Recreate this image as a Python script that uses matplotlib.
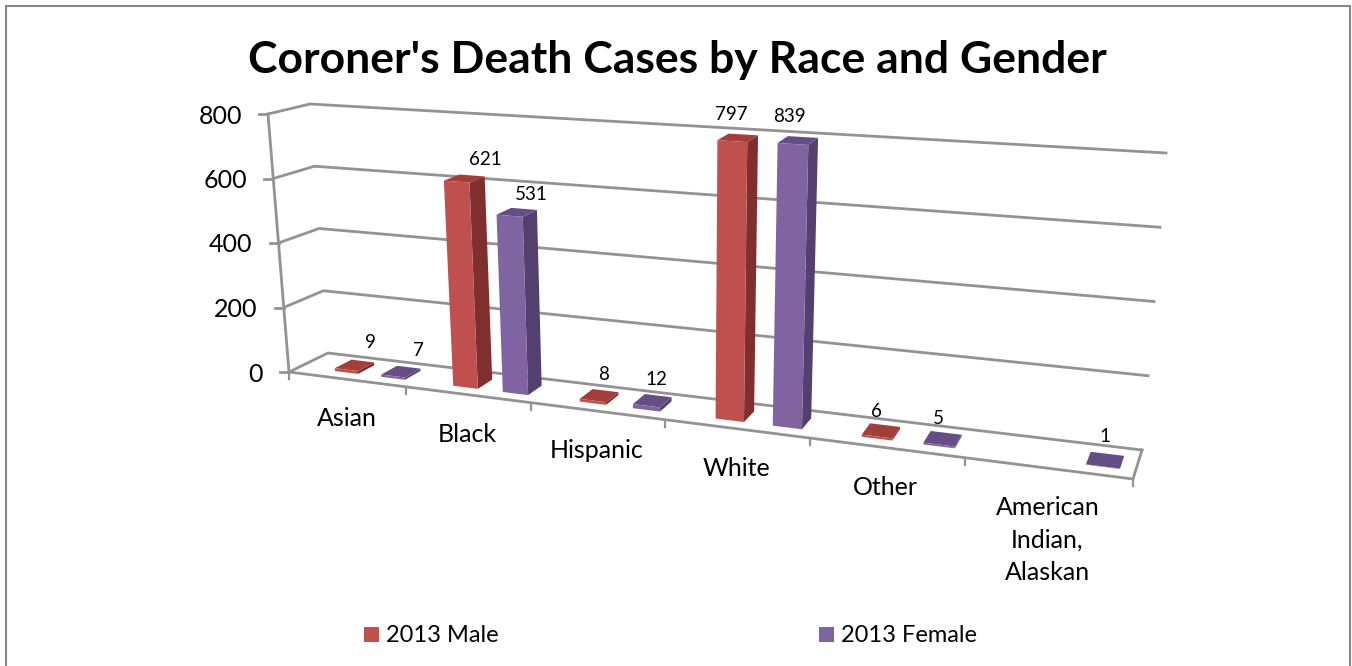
import numpy as np
import matplotlib
matplotlib.use("Agg")
import matplotlib.pyplot as plt
from matplotlib.patches import Polygon, Rectangle

plt.rcParams['font.family'] = ['Lato', 'DejaVu Sans']

# datos de la tabla
categories = ['Asian', 'Black', 'Hispanic', 'White', 'Other', 'American\nIndian,\nAlaskan']
male = [9, 621, 8, 797, 6, None]
female = [7, 531, 12, 839, 5, 1]
value_ticks = [0, 200, 400, 600, 800]

# ajuste fino de las etiquetas (px)
male_nudge = [(24, -27), (29, -22), (11, -26), (-1, -27), (-1, -25), (0, 0)]
female_nudge = [(25, -26), (22, -21), (10, -26), (-3, -27), (-1, -26), (2, -30)]

RED = ('#c0504d', '#7f2f2d', '#a33e3b')
PURPLE = ('#8064a2', '#54406f', '#664d85')
GRID = '#939393'

# esquinas de la caja en pixeles: (u, profundidad, altura)
front_bot = np.array([[289, 372], [1133, 479]], float)
back_bot = np.array([[328, 353], [1142, 450]], float)
front_top = np.array([[268, 114], [1157, 173]], float)
back_top = np.array([[310, 104], [1166, 153]], float)
PERSP = 1.243


def project(u, d, v):
    # u: categoria (0..6), d: profundidad (0..1), v: valor (0..800)
    a = u / len(categories)
    t = a / (a + PERSP * (1 - a))
    h = v / value_ticks[-1]
    fb = front_bot[0] + t * (front_bot[1] - front_bot[0])
    bb = back_bot[0] + t * (back_bot[1] - back_bot[0])
    ft = front_top[0] + t * (front_top[1] - front_top[0])
    bt = back_top[0] + t * (back_top[1] - back_top[0])
    bottom = fb + d * (bb - fb)
    top = ft + d * (bt - ft)
    return bottom + h * (top - bottom)


def draw_bar(ax, u0, u1, value, colors, nudge):
    d0, d1 = 0.28, 0.72
    # la barra se corta en el maximo del eje, la etiqueta no
    h = min(value, value_ticks[-1])
    p = project
    # cara lateral, superior y frontal
    ax.add_patch(Polygon([p(u1, d0, 0), p(u1, d1, 0), p(u1, d1, h), p(u1, d0, h)],
                         facecolor=colors[1], edgecolor='none', zorder=3))
    ax.add_patch(Polygon([p(u0, d0, h), p(u1, d0, h), p(u1, d1, h), p(u0, d1, h)],
                         facecolor=colors[2], edgecolor='none', zorder=3))
    ax.add_patch(Polygon([p(u0, d0, 0), p(u1, d0, 0), p(u1, d0, h), p(u0, d0, h)],
                         facecolor=colors[0], edgecolor='none', zorder=4))
    cx, cy = p((u0 + u1) / 2, d0, h)
    ax.text(cx + nudge[0], cy + nudge[1], str(value), ha='center', va='center',
            fontsize=13.5, color='black', zorder=5)


fig = plt.figure(figsize=(13.52, 6.66), dpi=100)
ax = fig.add_axes([0, 0, 1, 1])
ax.set_xlim(0, 1352)
ax.set_ylim(666, 0)
ax.axis('off')

# marco
ax.add_patch(Rectangle((6, 6), 1344, 700, facecolor='white', edgecolor='#878787', linewidth=1.5))

n = len(categories)
# rejilla
for v in value_ticks:
    pts = np.array([project(0, 0, v), project(0, 1, v), project(n, 1, v)])
    ax.plot(pts[:, 0], pts[:, 1], color=GRID, lw=2, zorder=1)
    a = project(0, 0, v)
    ax.plot([a[0] - 9, a[0]], [a[1], a[1]], color=GRID, lw=2, zorder=1)
    ax.text(a[0] - 26, a[1] + 2, str(v), ha='right', va='center', fontsize=18)

# eje vertical, piso y marcas
pts = np.array([project(0, 0, 0), project(0, 0, 800)])
ax.plot(pts[:, 0], pts[:, 1], color=GRID, lw=2, zorder=1)
pts = np.array([project(0, 0, 0), project(n, 0, 0), project(n, 1, 0)])
ax.plot(pts[:, 0], pts[:, 1], color=GRID, lw=2, zorder=2)
for i in range(n + 1):
    a = project(i, 0, 0)
    ax.plot([a[0], a[0]], [a[1], a[1] + 7], color=GRID, lw=1.6, zorder=1)

# barras
for i in range(n):
    if male[i] is not None:
        draw_bar(ax, i + 0.31, i + 0.51, male[i], RED, male_nudge[i])
    if female[i] is not None:
        draw_bar(ax, i + 0.71, i + 0.91, female[i], PURPLE, female_nudge[i])

# etiquetas de categoria
for i, name in enumerate(categories):
    a = project(i + 0.5, 0, 0)
    ax.text(a[0], a[1] + 28, name, ha='center', va='top', fontsize=18, linespacing=1.5)

ax.text(677, 60, "Coroner's Death Cases by Race and Gender", ha='center', va='center',
        fontsize=32, fontweight='bold')

# leyenda
ax.add_patch(Rectangle((364, 627), 15, 15, facecolor=RED[0], edgecolor='none'))
ax.text(386, 635, '2013 Male', ha='left', va='center', fontsize=17)
ax.add_patch(Rectangle((819, 627), 15, 15, facecolor=PURPLE[0], edgecolor='none'))
ax.text(841, 635, '2013 Female', ha='left', va='center', fontsize=17)

fig.savefig('out.png', dpi=100)
